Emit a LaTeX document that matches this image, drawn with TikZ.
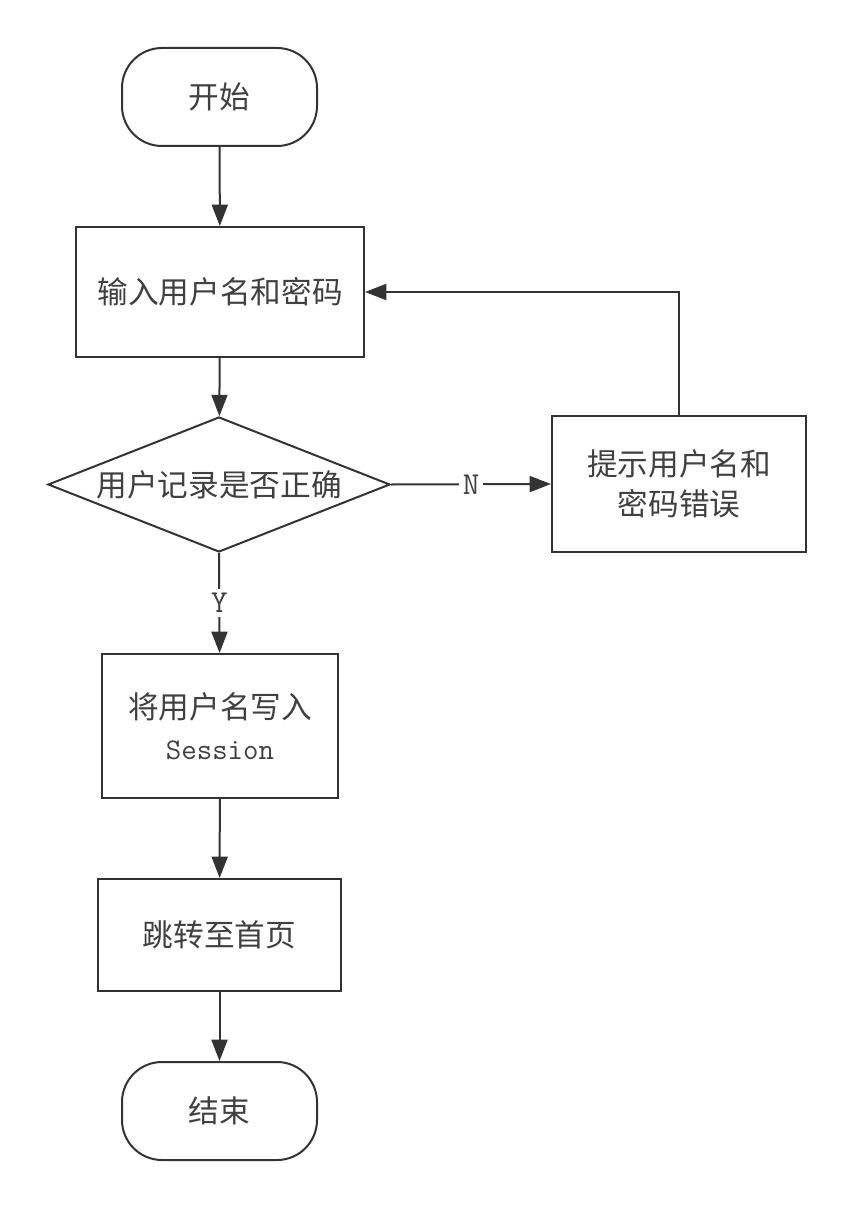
\documentclass[tikz,border=0pt]{standalone}
\usepackage{fontspec}
\setmainfont{Noto Sans CJK SC}
\newfontfamily\latinmono{Latin Modern Mono}
\usetikzlibrary{shapes.geometric,arrows.meta}
\definecolor{ln}{HTML}{333333}
\definecolor{txt}{HTML}{404040}
\begin{document}
\begin{tikzpicture}[x=0.75pt,y=-0.75pt,
  every node/.style={font=\fontsize{23}{30}\selectfont, text=txt},
  box/.style={draw=ln, line width=1.5pt, rectangle, align=center, inner sep=0pt},
  term/.style={box, rounded corners=30pt, minimum width=146.25pt, minimum height=73.5pt},
  dec/.style={draw=ln, line width=1.5pt, diamond, shape aspect=2.53, align=center, inner sep=0pt, minimum width=256.5pt, minimum height=101.25pt},
  arr/.style={draw=ln, line width=1.5pt, -{Triangle[length=16pt,width=12pt]}},
  lbl/.style={fill=white, inner sep=3pt, font=\latinmono\fontsize{24}{26}\selectfont}]
\useasboundingbox (0,0) rectangle (854,1209);
\fill[white] (0,0) rectangle (854,1209);
\node[term] (start) at (219.5,97) {开始};
\node[box, minimum width=216pt, minimum height=97.5pt] (input) at (220,292) {输入用户名和密码};
\node[dec] (check) at (219,484.5) {用户记录是否正确};
\node[box, minimum width=190.5pt, minimum height=102pt] (err) at (679,484) {提示用户名和\\密码错误};
\node[box, minimum width=177pt, minimum height=108pt, font=\fontsize{23}{31}\selectfont] (sess) at (220,726) {将用户名写入\\{\latinmono\fontsize{22.5}{31}\selectfont Session}};
\node[box, minimum width=182.25pt, minimum height=84pt] (home) at (219.5,935) {跳转至首页};
\node[term] (end) at (219.5,1111) {结束};
\draw[arr] (start) -- (input);
\draw[arr] (input) -- (check);
\draw[arr] (check.south) -- node[lbl] {Y} (sess);
\draw[arr] (check.east) -- node[lbl] {N} (err.west);
\draw[arr] (err.north) |- (input.east);
\draw[arr] (sess) -- (home);
\draw[arr] (home) -- (end);
\end{tikzpicture}
\end{document}
